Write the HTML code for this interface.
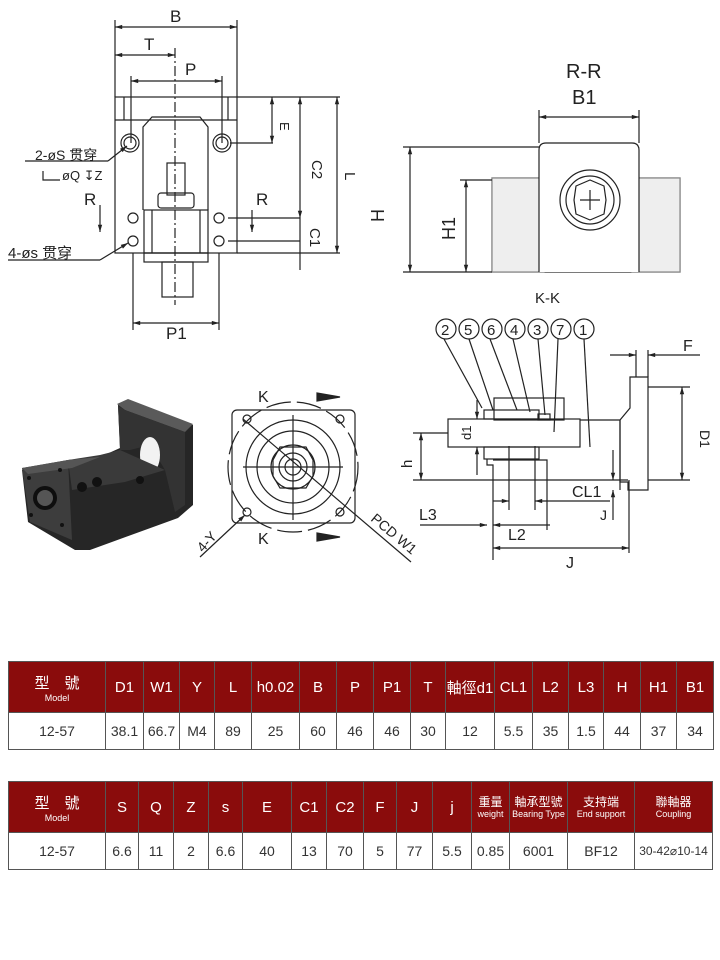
<!DOCTYPE html>
<html><head><meta charset="utf-8"><style>
body{margin:0;background:#fff;width:720px;height:960px;position:relative;overflow:hidden;font-family:"Liberation Sans","Noto Sans CJK TC",sans-serif}
svg{position:absolute;left:0;top:0}
table{position:absolute;border-collapse:collapse;table-layout:fixed;left:8px;width:704px}
td{border:1px solid #555;text-align:center;padding:0;font-size:14px;color:#333;white-space:nowrap;overflow:hidden;font-family:"Liberation Sans Narrow","Liberation Sans","Noto Sans CJK TC",sans-serif}
tr.h td{background:#8a0c0c;color:#fff;height:50px;font-size:15px}
tr.d td{height:36px;font-size:14px}
.s{display:block;font-size:9px;line-height:10px}
.c{font-size:12px;line-height:14px;display:block}
</style></head><body>
<svg width="720" height="620" viewBox="0 0 720 620" font-family="Liberation Sans, sans-serif" fill="none" stroke="#222" stroke-width="1.2">
<defs><marker id="a" viewBox="0 0 10 10" refX="10" refY="5" markerWidth="8" markerHeight="6" orient="auto-start-reverse"><path d="M0,2L10,5L0,8z" fill="#222" stroke="none"/></marker></defs>
<!-- front view -->
<g>
<line x1="115" y1="20" x2="115" y2="97"/><line x1="237" y1="20" x2="237" y2="97"/>
<line x1="115" y1="27" x2="237" y2="27" marker-start="url(#a)" marker-end="url(#a)"/>
<line x1="115" y1="55" x2="175" y2="55" marker-start="url(#a)" marker-end="url(#a)"/>
<line x1="131" y1="76" x2="131" y2="143"/><line x1="222" y1="76" x2="222" y2="143"/>
<line x1="131" y1="81" x2="222" y2="81" marker-start="url(#a)" marker-end="url(#a)"/>
<rect x="115" y="97" width="122" height="156"/>
<line x1="115" y1="120" x2="237" y2="120"/>
<line x1="124" y1="97" x2="124" y2="120"/><line x1="228" y1="97" x2="228" y2="120"/>
<path d="M143,210V127L152,117H200L208,127V210"/>
<rect x="144" y="210" width="64" height="43"/>
<line x1="152" y1="210" x2="152" y2="253"/><line x1="200" y1="210" x2="200" y2="253"/>
<rect x="144" y="253" width="64" height="9"/>
<rect x="162" y="262" width="31" height="35"/>
<rect x="167" y="163" width="18" height="32"/>
<rect x="158" y="193" width="36" height="15" rx="3"/>
<circle cx="130" cy="143" r="9"/><circle cx="130" cy="143" r="6"/>
<circle cx="222" cy="143" r="9"/><circle cx="222" cy="143" r="6"/>
<circle cx="133" cy="218" r="5"/><circle cx="133" cy="241" r="5"/><circle cx="219" cy="218" r="5"/><circle cx="219" cy="241" r="5"/>
<line x1="175" y1="48" x2="175" y2="305" stroke-dasharray="10,3,2,3"/>
<line x1="237" y1="97" x2="340" y2="97"/>
<line x1="230" y1="143" x2="273" y2="143"/><line x1="272" y1="97" x2="272" y2="143" marker-start="url(#a)" marker-end="url(#a)"/>
<line x1="228" y1="218" x2="300" y2="218"/><line x1="228" y1="241" x2="300" y2="241"/>
<line x1="237" y1="253" x2="340" y2="253"/>
<line x1="300" y1="97" x2="300" y2="218" marker-start="url(#a)" marker-end="url(#a)"/>
<line x1="300" y1="218" x2="300" y2="270"/>
<line x1="337" y1="97" x2="337" y2="253" marker-start="url(#a)" marker-end="url(#a)"/>
<line x1="133" y1="253" x2="133" y2="330"/><line x1="219" y1="253" x2="219" y2="330"/>
<line x1="133" y1="323" x2="219" y2="323" marker-start="url(#a)" marker-end="url(#a)"/>
<line x1="25" y1="161" x2="108" y2="161"/><line x1="108" y1="161" x2="127" y2="146" marker-end="url(#a)"/>
<path d="M43,171V180H60"/>
<line x1="8" y1="260" x2="100" y2="260"/><line x1="100" y1="260" x2="128" y2="243" marker-end="url(#a)"/>
<line x1="100" y1="205" x2="100" y2="232" marker-end="url(#a)"/>
<line x1="252" y1="210" x2="252" y2="232" marker-end="url(#a)"/>
<g fill="#222" stroke="none" font-size="17">
<text x="170" y="22">B</text><text x="144" y="50">T</text><text x="185" y="75">P</text><text x="166" y="339">P1</text>
<text x="84" y="205">R</text><text x="256" y="205">R</text>
<text x="35" y="160" font-size="14">2-øS 贯穿</text>
<text x="62" y="180" font-size="13">øQ ↧Z</text>
<text x="8" y="258" font-size="15">4-øs 贯穿</text>
<text transform="translate(312,160) rotate(90)" font-size="15">C2</text>
<text transform="translate(310,228) rotate(90)" font-size="15">C1</text>
<text transform="translate(345,172) rotate(90)" font-size="15">L</text>
<text transform="translate(280,122) rotate(90)" font-size="13">E</text>
</g></g>
<!-- R-R view -->
<g>
<rect x="492" y="178" width="188" height="94"/>
<rect x="492" y="178" width="52" height="94" stroke="#888" fill="#eeeeee"/><rect x="632" y="178" width="48" height="94" stroke="#888" fill="#eeeeee"/>
<path d="M539,272V150Q539,143 546,143H632Q639,143 639,150V272" fill="#fff"/>
<circle cx="590" cy="200" r="30"/><circle cx="590" cy="200" r="24"/>
<path d="M576,186L590,180L604,186L606,200L604,214L590,220L576,214L574,200Z"/>
<line x1="580" y1="200" x2="600" y2="200"/><line x1="590" y1="190" x2="590" y2="210"/>
<line x1="539" y1="110" x2="539" y2="143"/><line x1="639" y1="110" x2="639" y2="143"/>
<line x1="539" y1="117" x2="639" y2="117" marker-start="url(#a)" marker-end="url(#a)"/>
<line x1="403" y1="147" x2="539" y2="147"/><line x1="403" y1="272" x2="492" y2="272"/>
<line x1="410" y1="147" x2="410" y2="272" marker-start="url(#a)" marker-end="url(#a)"/>
<line x1="460" y1="180" x2="492" y2="180"/>
<line x1="466" y1="180" x2="466" y2="272" marker-start="url(#a)" marker-end="url(#a)"/>
<g fill="#222" stroke="none" font-size="20"><text x="566" y="78">R-R</text><text x="572" y="104">B1</text>
<text transform="translate(384,222) rotate(-90)" font-size="18">H</text>
<text transform="translate(455,240) rotate(-90)" font-size="18">H1</text></g>
</g>
<!-- 3D block -->
<g stroke="none">
<polygon points="22,470 68,460 100,457 120,448 118,405 128,400 193,425 193,505 178,518 90,550 75,550 28,522" fill="#262626"/>
<polygon points="117,404 128,399 193,424 185,432 125,410" fill="#5a5a5a"/>
<polygon points="118,406 125,410 185,432 185,505 175,512 165,470 150,445 130,450 120,450" fill="#333"/>
<ellipse cx="150" cy="455" rx="10" ry="18" fill="#f2f2f2"/>
<polygon points="68,460 100,455 120,450 165,470 125,482 72,490" fill="#3a3a3a"/>
<polygon points="22,468 68,460 72,540 30,522" fill="#3d3d3d"/>
<polygon points="22,468 68,460 100,457 72,468 28,474" fill="#555"/>
<circle cx="45" cy="498" r="12" fill="#0e0e0e"/><circle cx="45" cy="498" r="8" fill="#555"/>
<circle cx="29" cy="478" r="2" fill="#111"/><circle cx="60" cy="470" r="2" fill="#111"/><circle cx="31" cy="515" r="2" fill="#111"/><circle cx="62" cy="525" r="2" fill="#111"/>
<circle cx="82" cy="487" r="5" fill="#111"/><circle cx="97" cy="482" r="5" fill="#111"/><circle cx="140" cy="480" r="4" fill="#111"/>
</g>
<!-- flange view -->
<g>
<rect x="232" y="410" width="123" height="113" rx="5"/>
<circle cx="293" cy="467" r="65" stroke-dasharray="25,6"/>
<circle cx="293" cy="467" r="47"/><circle cx="293" cy="467" r="36"/>
<circle cx="293" cy="467" r="22"/><circle cx="293" cy="467" r="14"/><circle cx="293" cy="467" r="8"/>
<path d="M280,447H306L313,460V476L306,488H280L273,476V460Z"/>
<line x1="243" y1="467" x2="343" y2="467"/><line x1="293" y1="415" x2="293" y2="520"/>
<circle cx="247" cy="419" r="4"/><circle cx="340" cy="419" r="4"/><circle cx="247" cy="512" r="4"/><circle cx="340" cy="512" r="4"/>
<line x1="243" y1="419" x2="411" y2="562"/>
<line x1="200" y1="557" x2="245" y2="515" marker-end="url(#a)"/>
<polygon points="317,393 340,397 317,401" fill="#222"/><polygon points="317,533 340,537 317,541" fill="#222"/>
<g fill="#222" stroke="none" font-size="16"><text x="258" y="402">K</text><text x="258" y="544">K</text>
<text transform="translate(203,553) rotate(-48)" font-size="14">4-Y</text>
<text transform="translate(370,520) rotate(40)" font-size="14">PCD W1</text></g>
</g>
<!-- K-K section -->
<g>
<g font-size="15" fill="#222" stroke="none"><text x="535" y="303">K-K</text></g>
<g font-size="15">
<circle cx="446" cy="329" r="10"/><circle cx="469" cy="329" r="10"/><circle cx="492" cy="329" r="10"/><circle cx="515" cy="329" r="10"/><circle cx="538" cy="329" r="10"/><circle cx="561" cy="329" r="10"/><circle cx="584" cy="329" r="10"/>
<g fill="#222" stroke="none"><text x="441" y="335">2</text><text x="464" y="335">5</text><text x="487" y="335">6</text><text x="510" y="335">4</text><text x="533" y="335">3</text><text x="556" y="335">7</text><text x="579" y="335">1</text></g>
</g>
<line x1="444" y1="339" x2="482" y2="408"/><line x1="469" y1="339" x2="493" y2="410"/><line x1="490" y1="339" x2="517" y2="410"/><line x1="513" y1="339" x2="530" y2="412"/><line x1="538" y1="339" x2="545" y2="415"/><line x1="558" y1="339" x2="554" y2="432"/><line x1="584" y1="339" x2="590" y2="447"/>
<rect x="448" y="419" width="132" height="28"/>
<rect x="494" y="398" width="70" height="22"/>
<rect x="484" y="410" width="55" height="9"/><rect x="484" y="447" width="55" height="12"/>
<rect x="538" y="414" width="12" height="6"/>
<path d="M487,459V465H493V560M493,460H547V502M509,446V510M535,446V510"/>
<path d="M580,420H620L630,408V377H648V490H628V482H620V420"/>
<line x1="620" y1="420" x2="620" y2="490"/>
<line x1="648" y1="387" x2="690" y2="387"/><line x1="648" y1="480" x2="690" y2="480"/>
<line x1="682" y1="387" x2="682" y2="480" marker-start="url(#a)" marker-end="url(#a)"/>
<line x1="636" y1="350" x2="636" y2="377"/><line x1="648" y1="350" x2="648" y2="377"/>
<line x1="610" y1="355" x2="636" y2="355" marker-end="url(#a)"/><line x1="700" y1="355" x2="648" y2="355" marker-end="url(#a)"/>
<line x1="413" y1="433" x2="448" y2="433"/><line x1="413" y1="480" x2="628" y2="480"/>
<line x1="421" y1="433" x2="421" y2="480" marker-start="url(#a)" marker-end="url(#a)"/>
<line x1="477" y1="400" x2="477" y2="419" marker-end="url(#a)"/><line x1="477" y1="475" x2="477" y2="447" marker-end="url(#a)"/>
<line x1="493" y1="548" x2="629" y2="548" marker-start="url(#a)" marker-end="url(#a)"/>
<line x1="629" y1="480" x2="629" y2="553"/>
<line x1="420" y1="525" x2="487" y2="525" marker-end="url(#a)"/><line x1="550" y1="525" x2="493" y2="525" marker-end="url(#a)"/>
<line x1="547" y1="502" x2="547" y2="530"/>
<line x1="493" y1="501" x2="509" y2="501" marker-end="url(#a)"/><line x1="610" y1="501" x2="535" y2="501" marker-end="url(#a)"/>
<line x1="613" y1="450" x2="613" y2="480" marker-end="url(#a)"/><line x1="613" y1="520" x2="613" y2="490" marker-end="url(#a)"/>
<g fill="#222" stroke="none" font-size="16"><text x="683" y="351">F</text><text x="572" y="497">CL1</text><text x="419" y="520">L3</text><text x="508" y="540">L2</text><text x="566" y="568">J</text><text x="600" y="520" font-size="14">J</text>
<text transform="translate(700,430) rotate(90)" font-size="14">D1</text>
<text transform="translate(412,468) rotate(-90)" font-size="15">h</text>
<text transform="translate(471,440) rotate(-90)" font-size="13">d1</text></g>
</g>
<text x="640" y="650" fill="#c00" stroke="none" font-size="38">mm</text>
</svg>
<table style="top:661px">
<colgroup><col style="width:97px"><col style="width:38px"><col style="width:36px"><col style="width:35px"><col style="width:37px"><col style="width:48px"><col style="width:37px"><col style="width:37px"><col style="width:37px"><col style="width:35px"><col style="width:49px"><col style="width:38px"><col style="width:36px"><col style="width:35px"><col style="width:37px"><col style="width:36px"><col style="width:37px"></colgroup>
<tr class="h"><td>型　號<span class="s">Model</span></td><td>D1</td><td>W1</td><td>Y</td><td>L</td><td>h0.02</td><td>B</td><td>P</td><td>P1</td><td>T</td><td>軸徑d1</td><td>CL1</td><td>L2</td><td>L3</td><td>H</td><td>H1</td><td>B1</td></tr>
<tr class="d"><td>12-57</td><td>38.1</td><td>66.7</td><td>M4</td><td>89</td><td>25</td><td>60</td><td>46</td><td>46</td><td>30</td><td>12</td><td>5.5</td><td>35</td><td>1.5</td><td>44</td><td>37</td><td>34</td></tr>
</table>
<table style="top:781px">
<colgroup><col style="width:97px"><col style="width:33px"><col style="width:35px"><col style="width:35px"><col style="width:34px"><col style="width:49px"><col style="width:35px"><col style="width:37px"><col style="width:33px"><col style="width:36px"><col style="width:39px"><col style="width:38px"><col style="width:58px"><col style="width:67px"><col style="width:78px"></colgroup>
<tr class="h"><td>型　號<span class="s">Model</span></td><td>S</td><td>Q</td><td>Z</td><td>s</td><td>E</td><td>C1</td><td>C2</td><td>F</td><td>J</td><td>j</td><td><span class="c">重量</span><span class="s">weight</span></td><td><span class="c">軸承型號</span><span class="s">Bearing Type</span></td><td><span class="c">支持端</span><span class="s">End support</span></td><td><span class="c">聯軸器</span><span class="s">Coupling</span></td></tr>
<tr class="d"><td>12-57</td><td>6.6</td><td>11</td><td>2</td><td>6.6</td><td>40</td><td>13</td><td>70</td><td>5</td><td>77</td><td>5.5</td><td>0.85</td><td>6001</td><td>BF12</td><td style="font-size:12px">30-42⌀10-14</td></tr>
</table>
</body></html>
